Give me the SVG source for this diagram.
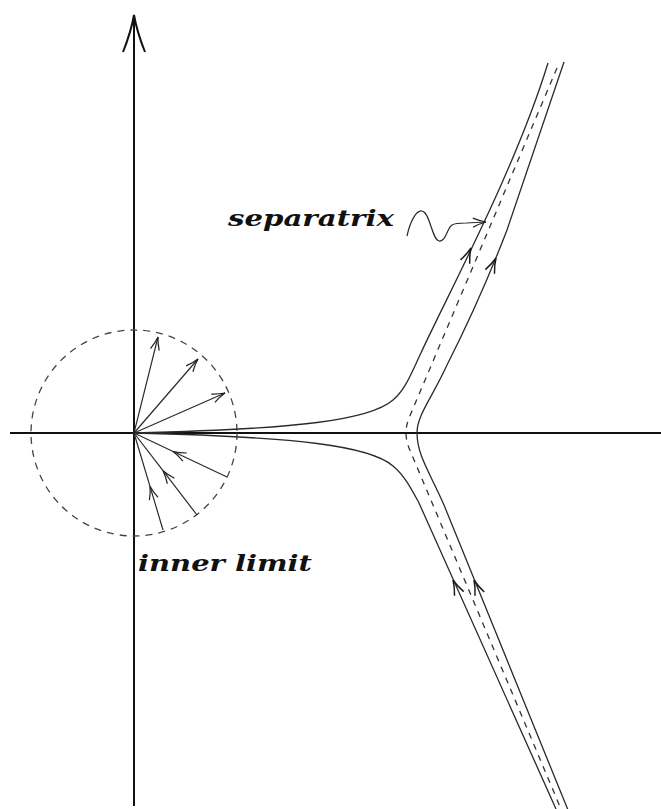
<svg xmlns="http://www.w3.org/2000/svg" xmlns:xlink="http://www.w3.org/1999/xlink" width="661" height="809" viewBox="0 0 661 809">
<style>
.ax{stroke:#111;stroke-width:2;fill:none}
.cv{stroke:#2a2a2a;stroke-width:1.3;fill:none}
.ds{stroke:#333;stroke-width:1.3;fill:none;stroke-dasharray:6 6}
.cir{stroke:#444;stroke-width:1.3;fill:none;stroke-dasharray:7 6}
.ar{stroke:#2a2a2a;stroke-width:1.2;fill:none}
.head{stroke:#1a1a1a;stroke-width:1.5;fill:none}
.lbl{font-family:"DejaVu Serif","Liberation Serif",serif;font-weight:bold;font-style:italic;font-size:23px;fill:#111}
</style>
<defs>
<marker id="ah" viewBox="-15 -7 16 14" refX="0" refY="0" markerWidth="16" markerHeight="14" markerUnits="userSpaceOnUse" orient="auto" overflow="visible">
<path d="M-13,-4.5 Q-6,-1.2 0,0 Q-6,1.2 -13,4.5" fill="none" stroke="#222" stroke-width="1.2"/>
</marker>
<path id="h" d="M-15,-5 Q-7,-1.3 0,0 Q-7,1.3 -15,5"/>
</defs>
<rect width="661" height="809" fill="#fff"/>
<g id="axes">
<line class="ax" x1="134" y1="806" x2="134" y2="17"/>
<path class="ax" d="M123,52 Q131,32 134,15 Q137,32 145,52" stroke-width="1.6"/>
<line class="ax" x1="10" y1="433" x2="661" y2="433"/>
</g>
<g id="inner-limit">
<circle class="cir" cx="134" cy="433" r="103"/>
<path class="ar" d="M134,433 L158,337" marker-end="url(#ah)"/>
<path class="ar" d="M134,433 L198,359" marker-end="url(#ah)"/>
<path class="ar" d="M134,433 L225,393" marker-end="url(#ah)"/>
<path class="ar" d="M227,477 L173.1,451.5 L134,433" marker-mid="url(#ah)"/>
<path class="ar" d="M197,515 L163,470.7 L134,433" marker-mid="url(#ah)"/>
<path class="ar" d="M163,530 L150,486.3 L134,433" marker-mid="url(#ah)"/>
<text class="lbl" x="138" y="571" textLength="174" lengthAdjust="spacingAndGlyphs">inner limit</text>
</g>
<g id="connectors">
<path class="cv" d="M134,433 C300,429 370,420 393,400 C405,390 411,374 420,355 C450,290 515,170 548,63"/>
<path class="cv" d="M134,433 C300,437 370,446 393,466 C405,476 412,490 419,503 L556,809"/>
<path class="cv" d="M564,62 L507,230 Q480,300 447,365 C432,398 417,415 417,433 C417,455 430,473 444,505 L568,810"/>
<path class="ds" d="M557,68 L409,418 Q403,433 409,448 L561,809"/>
<use href="#h" class="head" transform="translate(471,248) rotate(-67)"/>
<use href="#h" class="head" transform="translate(496,258) rotate(-66)"/>
<use href="#h" class="head" transform="translate(453,580) rotate(-114)"/>
<use href="#h" class="head" transform="translate(474,580) rotate(-112)"/>
</g>
<g id="separatrix">
<text class="lbl" x="228" y="226" textLength="166" lengthAdjust="spacingAndGlyphs">separatrix</text>
<path class="ar" d="M407,236 C410,222 416,210 422,211 C430,212 432,240 439,241 C446,242 447,228 452,225 C455,223 460,223 466,223 L486,222" marker-end="url(#ah)"/>
</g>
</svg>
